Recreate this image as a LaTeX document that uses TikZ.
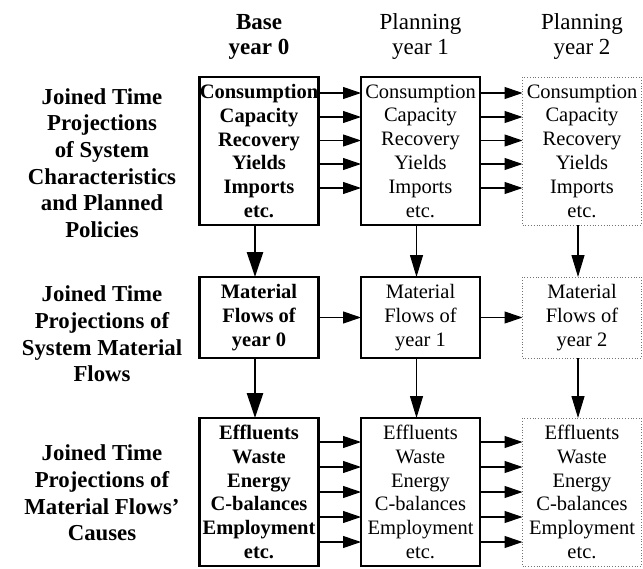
\documentclass[tikz,border=0pt]{standalone}
\usepackage{fontspec}
\setmainfont{Liberation Serif}
\usepackage{tikz}
\usetikzlibrary{arrows.meta}
\usetikzlibrary{positioning}

\begin{document}
\begin{tikzpicture}
[
	box/.style	= {rectangle, minimum width = 119pt, inner sep = 0pt, outer sep = 0pt, align = center, font = \fontsize{20.5}{23.8}\selectfont},
	base/.style	= {box, draw = black, line width = 2.6pt, font = \fontsize{20.5}{23.8}\selectfont\bfseries},
	plan/.style	= {box, draw = black, line width = 1.2pt},
	future/.style	= {box, draw = black!55, line width = 0.8pt, dotted},
	head/.style	= {align = center, font = \fontsize{23}{25.5}\selectfont},
	side/.style	= {align = center, font = \fontsize{22.8}{26.6}\selectfont\bfseries},
	flow/.style	= {-{Triangle[length = 18pt, width = 12pt]}, line width = 1.1pt},
	down/.style	= {-{Triangle[length = 22pt, width = 13pt]}, line width = 1.1pt},
	bolddown/.style	= {-{Triangle[length = 25pt, width = 16pt]}, line width = 2.6pt},
	node distance = 52pt and 42.5pt,
]
	\useasboundingbox (0,0) rectangle (643pt,-568pt);

	\node (char0) [base, minimum height = 148pt] at (259pt,-151pt) {Consumption\\Capacity\\Recovery\\Yields\\Imports\\etc.};
	\node (char1) [plan, minimum height = 148pt, right = of char0] {Consumption\\Capacity\\Recovery\\Yields\\Imports\\etc.};
	\node (char2) [future, minimum height = 148pt, right = of char1] {Consumption\\Capacity\\Recovery\\Yields\\Imports\\etc.};
	%
	\node (flow0) [base, minimum height = 81pt, below = of char0] {Material\\Flows of\\year 0};
	\node (flow1) [plan, minimum height = 81pt, below = of char1] {Material\\Flows of\\year 1};
	\node (flow2) [future, minimum height = 81pt, below = of char2] {Material\\Flows of\\year 2};
	%
	\node (cause0) [base, minimum height = 148pt, below = 60pt of flow0] {Effluents\\Waste\\Energy\\C-balances\\Employment\\etc.};
	\node (cause1) [plan, minimum height = 148pt, below = 60pt of flow1] {Effluents\\Waste\\Energy\\C-balances\\Employment\\etc.};
	\node (cause2) [future, minimum height = 148pt, below = 60pt of flow2] {Effluents\\Waste\\Energy\\C-balances\\Employment\\etc.};

	\node (head0) [head, font = \fontsize{23}{25.5}\selectfont\bfseries, above = 14pt of char0] {Base\\year 0};
	\node (head1) [head, above = 14pt of char1] {Planning\\year 1};
	\node (head2) [head, above = 14pt of char2] {Planning\\year 2};
	%
	\node (side1) [side] at (102pt,-163pt) {Joined Time\\Projections\\of System\\Characteristics\\and Planned\\Policies};
	\node (side2) [side] at (102pt,-334pt) {Joined Time\\Projections of\\System Material\\Flows};
	\node (side3) [side] at (102pt,-493pt) {Joined Time\\Projections of\\Material Flows'\\Causes};

	\draw [flow] ([yshift = -16pt]char0.north east) -- ([yshift = -16pt]char1.north west);
	\draw [flow] ([yshift = -40pt]char0.north east) -- ([yshift = -40pt]char1.north west);
	\draw [flow] ([yshift = -63.5pt]char0.north east) -- ([yshift = -63.5pt]char1.north west);
	\draw [flow] ([yshift = -87pt]char0.north east) -- ([yshift = -87pt]char1.north west);
	\draw [flow] ([yshift = -111pt]char0.north east) -- ([yshift = -111pt]char1.north west);
	%
	\draw [flow] ([yshift = -16pt]char1.north east) -- ([yshift = -16pt]char2.north west);
	\draw [flow] ([yshift = -40pt]char1.north east) -- ([yshift = -40pt]char2.north west);
	\draw [flow] ([yshift = -63.5pt]char1.north east) -- ([yshift = -63.5pt]char2.north west);
	\draw [flow] ([yshift = -87pt]char1.north east) -- ([yshift = -87pt]char2.north west);
	\draw [flow] ([yshift = -111pt]char1.north east) -- ([yshift = -111pt]char2.north west);

	\draw [flow] (flow0) -- (flow1);
	\draw [flow] (flow1) -- (flow2);

	\draw [flow] ([yshift = -24pt]cause0.north east) -- ([yshift = -24pt]cause1.north west);
	\draw [flow] ([yshift = -49pt]cause0.north east) -- ([yshift = -49pt]cause1.north west);
	\draw [flow] ([yshift = -74pt]cause0.north east) -- ([yshift = -74pt]cause1.north west);
	\draw [flow] ([yshift = -99pt]cause0.north east) -- ([yshift = -99pt]cause1.north west);
	\draw [flow] ([yshift = -124pt]cause0.north east) -- ([yshift = -124pt]cause1.north west);
	%
	\draw [flow] ([yshift = -24pt]cause1.north east) -- ([yshift = -24pt]cause2.north west);
	\draw [flow] ([yshift = -49pt]cause1.north east) -- ([yshift = -49pt]cause2.north west);
	\draw [flow] ([yshift = -74pt]cause1.north east) -- ([yshift = -74pt]cause2.north west);
	\draw [flow] ([yshift = -99pt]cause1.north east) -- ([yshift = -99pt]cause2.north west);
	\draw [flow] ([yshift = -124pt]cause1.north east) -- ([yshift = -124pt]cause2.north west);

	\draw [bolddown] ([xshift = -4pt]char0.south) -- ([xshift = -4pt]flow0.north);
	\draw [down] ([xshift = -4pt]char1.south) -- ([xshift = -4pt]flow1.north);
	\draw [down] ([xshift = -4pt]char2.south) -- ([xshift = -4pt]flow2.north);
	%
	\draw [bolddown] ([xshift = -4pt]flow0.south) -- ([xshift = -4pt]cause0.north);
	\draw [down] ([xshift = -4pt]flow1.south) -- ([xshift = -4pt]cause1.north);
	\draw [down] ([xshift = -4pt]flow2.south) -- ([xshift = -4pt]cause2.north);

\end{tikzpicture}
\end{document}
